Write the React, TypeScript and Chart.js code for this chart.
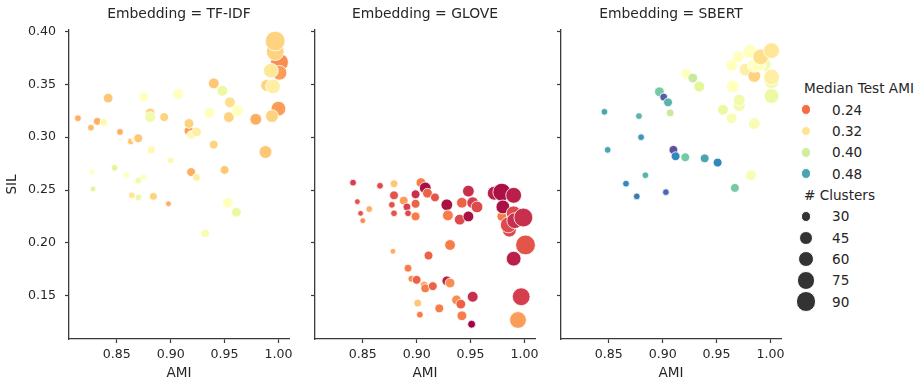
import React, { useEffect, useRef } from 'react';
import { Chart, registerables } from 'chart.js';

Chart.register(...registerables);

// ---------------- data ----------------
const embeddings = ['TF-IDF', 'GLOVE', 'SBERT'];
const xTickValues = [0.85, 0.9, 0.95, 1.0];
const yTickValues = [0.15, 0.2, 0.25, 0.3, 0.35, 0.4];
const hueLegendValues = [0.24, 0.32, 0.4, 0.48];
const sizeLegendValues = [30, 45, 60, 75, 90];

const tfidfAMI = [0.814, 0.826, 0.832, 0.838, 0.842, 0.853, 0.863, 0.867, 0.870, 0.875, 0.881, 0.881, 0.894, 0.882, 0.907, 0.900, 0.827, 0.828, 0.848, 0.859, 0.870, 0.875, 0.864, 0.870, 0.884, 0.898, 0.917, 0.917, 0.919, 0.924, 0.936, 0.940, 0.948, 0.955, 0.954, 0.962, 0.940, 0.919, 0.924, 0.950, 0.953, 0.961, 0.932, 0.979, 0.988, 1.000, 0.994, 0.989, 0.995, 1.001, 1.001, 0.993, 0.997, 0.997];
const tfidfSIL = [0.318, 0.309, 0.315, 0.314, 0.337, 0.305, 0.296, 0.298, 0.299, 0.338, 0.323, 0.319, 0.319, 0.288, 0.341, 0.278, 0.267, 0.251, 0.271, 0.264, 0.259, 0.262, 0.245, 0.243, 0.244, 0.237, 0.306, 0.313, 0.302, 0.305, 0.323, 0.351, 0.344, 0.333, 0.319, 0.325, 0.293, 0.267, 0.262, 0.269, 0.238, 0.229, 0.209, 0.317, 0.286, 0.327, 0.320, 0.349, 0.348, 0.371, 0.361, 0.363, 0.381, 0.391];
const tfidfMedian = [0.277, 0.286, 0.277, 0.341, 0.295, 0.277, 0.295, 0.341, 0.295, 0.351, 0.304, 0.369, 0.304, 0.341, 0.351, 0.341, 0.351, 0.387, 0.387, 0.351, 0.369, 0.351, 0.323, 0.378, 0.304, 0.277, 0.267, 0.304, 0.341, 0.332, 0.351, 0.295, 0.378, 0.314, 0.304, 0.351, 0.304, 0.277, 0.332, 0.295, 0.351, 0.378, 0.360, 0.277, 0.295, 0.267, 0.304, 0.304, 0.332, 0.258, 0.267, 0.323, 0.304, 0.304];
const tfidfClusters = [17, 17, 20, 20, 26, 17, 17, 17, 23, 26, 26, 30, 23, 20, 30, 17, 15, 15, 17, 17, 17, 17, 17, 17, 20, 15, 26, 26, 23, 26, 30, 30, 30, 30, 30, 34, 23, 23, 20, 23, 30, 26, 23, 34, 39, 49, 39, 34, 49, 68, 49, 49, 68, 82];

const gloveAMI = [0.841, 0.866, 0.879, 0.845, 0.848, 0.856, 0.850, 0.879, 0.877, 0.879, 0.888, 0.891, 0.892, 0.899, 0.899, 0.899, 0.904, 0.908, 0.910, 0.917, 0.878, 0.911, 0.892, 0.895, 0.900, 0.907, 0.908, 0.915, 0.901, 0.903, 0.928, 0.929, 0.942, 0.940, 0.948, 0.948, 0.952, 0.956, 0.931, 0.928, 0.931, 0.921, 0.937, 0.941, 0.942, 0.952, 0.951, 0.979, 0.972, 0.979, 0.980, 0.990, 0.990, 0.986, 0.985, 0.991, 0.999, 1.001, 0.990, 0.997, 0.994];
const gloveSIL = [0.257, 0.254, 0.256, 0.239, 0.228, 0.232, 0.221, 0.245, 0.236, 0.228, 0.240, 0.234, 0.228, 0.237, 0.225, 0.246, 0.257, 0.252, 0.247, 0.243, 0.192, 0.188, 0.176, 0.166, 0.165, 0.160, 0.157, 0.159, 0.143, 0.132, 0.236, 0.226, 0.238, 0.222, 0.249, 0.225, 0.238, 0.234, 0.198, 0.164, 0.162, 0.138, 0.146, 0.142, 0.131, 0.149, 0.123, 0.225, 0.247, 0.248, 0.234, 0.245, 0.228, 0.212, 0.217, 0.221, 0.224, 0.198, 0.185, 0.149, 0.127];
const gloveMedian = [0.203, 0.212, 0.295, 0.221, 0.221, 0.277, 0.258, 0.221, 0.221, 0.221, 0.267, 0.203, 0.212, 0.231, 0.249, 0.194, 0.249, 0.175, 0.231, 0.221, 0.277, 0.231, 0.249, 0.258, 0.231, 0.267, 0.249, 0.231, 0.295, 0.249, 0.175, 0.249, 0.231, 0.212, 0.194, 0.175, 0.203, 0.212, 0.249, 0.184, 0.258, 0.249, 0.258, 0.231, 0.249, 0.194, 0.166, 0.249, 0.184, 0.175, 0.175, 0.184, 0.212, 0.212, 0.212, 0.194, 0.194, 0.221, 0.184, 0.203, 0.267];
const gloveClusters = [17, 17, 20, 15, 15, 17, 15, 23, 17, 17, 23, 20, 17, 23, 23, 23, 26, 34, 26, 23, 15, 23, 20, 17, 23, 20, 23, 23, 20, 17, 34, 30, 30, 30, 34, 30, 34, 34, 30, 26, 26, 23, 26, 26, 26, 30, 20, 26, 44, 68, 44, 55, 49, 44, 55, 55, 75, 82, 49, 68, 61];

const sbertAMI = [0.846, 0.878, 0.880, 0.849, 0.884, 0.866, 0.876, 0.903, 0.897, 0.901, 0.905, 0.907, 0.910, 0.912, 0.921, 0.939, 0.951, 0.967, 0.982, 0.922, 0.928, 0.934, 0.956, 0.964, 0.971, 0.971, 0.985, 0.965, 0.964, 0.970, 0.981, 0.977, 0.985, 0.985, 0.994, 0.989, 0.991, 1.001, 1.001, 1.001, 1.001];
const sbertSIL = [0.324, 0.320, 0.300, 0.288, 0.264, 0.256, 0.244, 0.248, 0.343, 0.338, 0.333, 0.323, 0.288, 0.282, 0.281, 0.280, 0.276, 0.252, 0.264, 0.360, 0.356, 0.348, 0.326, 0.318, 0.330, 0.335, 0.313, 0.348, 0.368, 0.376, 0.381, 0.364, 0.358, 0.368, 0.369, 0.369, 0.376, 0.382, 0.339, 0.353, 0.357];
const sbertMedian = [0.480, 0.470, 0.489, 0.480, 0.470, 0.498, 0.507, 0.517, 0.452, 0.526, 0.470, 0.406, 0.535, 0.498, 0.452, 0.480, 0.498, 0.452, 0.360, 0.351, 0.406, 0.387, 0.378, 0.360, 0.369, 0.369, 0.360, 0.351, 0.351, 0.351, 0.351, 0.332, 0.304, 0.351, 0.369, 0.351, 0.314, 0.323, 0.378, 0.369, 0.332];
const sbertClusters = [17, 17, 17, 17, 17, 17, 17, 17, 26, 20, 23, 20, 23, 23, 23, 23, 23, 23, 30, 30, 26, 30, 30, 30, 34, 34, 34, 39, 34, 34, 44, 39, 39, 44, 44, 49, 55, 55, 49, 49, 55];

const panelAMI = [tfidfAMI, gloveAMI, sbertAMI];
const panelSIL = [tfidfSIL, gloveSIL, sbertSIL];
const panelMedian = [tfidfMedian, gloveMedian, sbertMedian];
const panelClusters = [tfidfClusters, gloveClusters, sbertClusters];

// ---------------- styles ----------------
const X_MIN = 0.8057;
const X_MAX = 1.0098;
const Y_MIN = 0.109;
const Y_MAX = 0.4015;
const HUE_MIN = 0.166;
const HUE_MAX = 0.535;
const FONT = 'DejaVu Sans';
const TEXT = '#262626';
const SPINE = '#3a3a3a';

const SPECTRAL = ['#9e0142', '#d53e4f', '#f46d43', '#fdae61', '#fee08b', '#ffffbf', '#e6f598', '#abdda4', '#66c2a5', '#3288bd', '#5e4fa2'];

function hexToRgb(h: string) {
  return [parseInt(h.slice(1, 3), 16), parseInt(h.slice(3, 5), 16), parseInt(h.slice(5, 7), 16)];
}
function spectral(t: number) {
  const tt = Math.max(0, Math.min(1, t));
  const pos = tt * 10;
  const i = Math.min(9, Math.floor(pos));
  const f = pos - i;
  const a = hexToRgb(SPECTRAL[i]);
  const b = hexToRgb(SPECTRAL[i + 1]);
  const c = a.map((v, k) => Math.round(v + (b[k] - v) * f));
  return `rgb(${c[0]},${c[1]},${c[2]})`;
}
function hueColor(v: number) {
  return spectral((v - HUE_MIN) / (HUE_MAX - HUE_MIN));
}
function radiusFor(c: number) {
  return Math.sqrt(Math.max(16, 100 + 5 * (c - 30))) / 2 + 0.4;
}

const CANVAS_W = 300;
const CANVAS_H = 384;
const PANEL_LEFTS = [0, 246, 492];

function makeConfig(idx: number): any {
  const xs = panelAMI[idx];
  const ys = panelSIL[idx];
  const hs = panelMedian[idx];
  const cs = panelClusters[idx];
  const pts = xs.map((x, i) => ({ x, y: ys[i] }));
  const radii = cs.map((c) => radiusFor(c));
  const colors = hs.map((h) => hueColor(h));
  const first = idx === 0;
  return {
    type: 'scatter',
    data: {
      datasets: [
        {
          data: pts,
          pointRadius: radii,
          pointHoverRadius: radii,
          pointBackgroundColor: colors,
          pointBorderColor: '#ffffff',
          pointBorderWidth: 0.8,
          clip: false,
        },
      ],
    },
    options: {
      animation: false,
      responsive: false,
      events: [],
      layout: { padding: { left: 0, right: 11, top: 0, bottom: 0 } },
      plugins: {
        legend: { display: false },
        tooltip: { enabled: false },
        title: {
          display: true,
          text: `Embedding = ${embeddings[idx]}`,
          fullSize: false,
          color: TEXT,
          font: { family: FONT, size: 13.9, weight: 'normal' },
          padding: { top: 5.6, bottom: 7.7 },
        },
      },
      scales: {
        x: {
          type: 'linear',
          min: X_MIN,
          max: X_MAX,
          afterFit: (s: any) => {
            s.height = 45;
          },
          afterBuildTicks: (s: any) => {
            s.ticks = xTickValues.map((v) => ({ value: v }));
          },
          ticks: {
            callback: (v: any) => Number(v).toFixed(2),
            padding: 4,
            color: TEXT,
            font: { family: FONT, size: 12.6 },
            maxRotation: 0,
            autoSkip: false,
          },
          grid: {
            display: true,
            drawOnChartArea: false,
            drawTicks: true,
            tickLength: 4,
            tickWidth: 1.2,
            tickColor: SPINE,
          },
          border: { display: true, color: SPINE, width: 1.3 },
          title: {
            display: true,
            text: 'AMI',
            color: TEXT,
            font: { family: FONT, size: 13.6 },
            padding: { top: 0, bottom: 2.3 },
          },
        },
        y: {
          type: 'linear',
          min: Y_MIN,
          max: Y_MAX,
          afterFit: (s: any) => {
            s.width = 69;
          },
          afterBuildTicks: (s: any) => {
            s.ticks = yTickValues.map((v) => ({ value: v }));
          },
          ticks: {
            callback: (v: any) => (first ? Number(v).toFixed(2) : ''),
            padding: 9,
            color: TEXT,
            font: { family: FONT, size: 12.6 },
            autoSkip: false,
          },
          grid: {
            display: true,
            drawOnChartArea: false,
            drawTicks: true,
            tickLength: 4,
            tickWidth: 1.2,
            tickColor: SPINE,
          },
          border: { display: true, color: SPINE, width: 1.3 },
          title: {
            display: first,
            text: 'SIL',
            color: TEXT,
            font: { family: FONT, size: 13.6 },
            padding: { top: 4, bottom: 0 },
          },
        },
      },
    },
  };
}

function Panel({ idx }: { idx: number }) {
  const ref = useRef<HTMLCanvasElement | null>(null);
  useEffect(() => {
    if (!ref.current) return;
    const chart = new Chart(ref.current, makeConfig(idx));
    return () => chart.destroy();
  }, [idx]);
  return (
    <canvas
      ref={ref}
      width={CANVAS_W}
      height={CANVAS_H}
      style={{ position: 'absolute', left: PANEL_LEFTS[idx], top: 0, width: CANVAS_W, height: CANVAS_H }}
    />
  );
}

const LEG_X = 804;
const LEG_MARK_X = 806;
const LEG_LABEL_X = 832;
const LEG_Y0 = 88.3;
const LEG_DY = 21.33;

function LegendText({ x, y, text }: { x: number; y: number; text: string }) {
  return (
    <div
      style={{
        position: 'absolute',
        left: x,
        top: y - 10,
        height: 20,
        lineHeight: '20px',
        fontFamily: FONT,
        fontSize: 13.6,
        color: TEXT,
        whiteSpace: 'nowrap',
      }}
    >
      {text}
    </div>
  );
}

function LegendMark({ y, d, color }: { y: number; d: number; color: string }) {
  return (
    <div
      style={{
        position: 'absolute',
        left: LEG_MARK_X - d / 2,
        top: y - d / 2,
        width: d,
        height: d,
        borderRadius: '50%',
        background: color,
        boxSizing: 'border-box',
        border: '0.8px solid #ffffff',
      }}
    />
  );
}

function Legend() {
  const items: any[] = [];
  items.push(<LegendText key="ht" x={LEG_X} y={LEG_Y0} text="Median Test AMI" />);
  hueLegendValues.forEach((v, i) => {
    const y = LEG_Y0 + LEG_DY * (i + 1);
    items.push(<LegendMark key={'hm' + i} y={y} d={10.5} color={hueColor(v)} />);
    items.push(<LegendText key={'hl' + i} x={LEG_LABEL_X} y={y} text={v.toFixed(2)} />);
  });
  const sy = LEG_Y0 + LEG_DY * (hueLegendValues.length + 1);
  items.push(<LegendText key="st" x={LEG_X} y={sy} text="# Clusters" />);
  sizeLegendValues.forEach((c, i) => {
    const y = sy + LEG_DY * (i + 1);
    items.push(<LegendMark key={'sm' + i} y={y} d={radiusFor(c) * 2} color="#333333" />);
    items.push(<LegendText key={'sl' + i} x={LEG_LABEL_X} y={y} text={String(c)} />);
  });
  return <>{items}</>;
}

export default function App() {
  return (
    <div
      style={{
        position: 'absolute',
        left: 0,
        top: 0,
        width: 924,
        height: 384,
        background: '#ffffff',
        overflow: 'hidden',
      }}
    >
      <Panel idx={0} />
      <Panel idx={1} />
      <Panel idx={2} />
      <Legend />
    </div>
  );
}
